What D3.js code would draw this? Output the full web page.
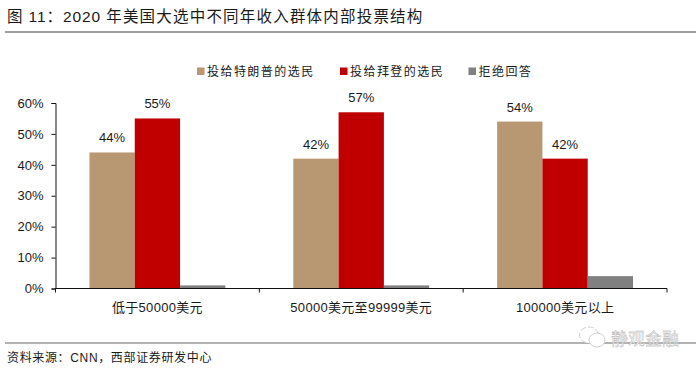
<!DOCTYPE html>
<html>
<head>
<meta charset="utf-8">
<script src="https://d3js.org/d3.v7.min.js"></script>
<style>
html, body { margin: 0; padding: 0; background: #fff; }
text { font-family: "Liberation Sans", "Noto Sans CJK SC", sans-serif; fill: #1a1a1a; }
</style>
</head>
<body>
<svg id="chart" width="700" height="368"></svg>
<script>
const titlePrefix = "图 11：2020 ";
const titleRest = "年美国大选中不同年收入群体内部投票结构";
const sourceText = "资料来源：CNN，西部证券研发中心";
const watermarkText = "静观金融";
const categories = ["低于50000美元", "50000美元至99999美元", "100000美元以上"];
const seriesNames = ["投给特朗普的选民", "投给拜登的选民", "拒绝回答"];
const seriesColors = ["#b89872", "#c00000", "#808080"];
const trump = [44, 42, 54];
const biden = [55, 57, 42];
const refused = [1, 1, 4];
const yTicks = [0, 10, 20, 30, 40, 50, 60];

const svg = d3.select("#chart");
const plot = { left: 55.5, right: 667, top: 103, bottom: 288.5 };

// header and footer rules
const title = svg.append("text").attr("x", 7).attr("y", 22).attr("font-size", 15.5).attr("xml:space", "preserve");
title.append("tspan").attr("letter-spacing", 0.9).text(titlePrefix);
title.append("tspan").attr("letter-spacing", 1.2).text(titleRest);
svg.append("line").attr("x1", 5).attr("x2", 696).attr("y1", 32).attr("y2", 32)
    .attr("stroke", "#808080").attr("stroke-width", 1.5);
svg.append("line").attr("x1", 5).attr("x2", 696).attr("y1", 343).attr("y2", 343)
    .attr("stroke", "#999").attr("stroke-width", 1.5);
svg.append("text").attr("x", 7).attr("y", 361.5).attr("font-size", 12)
    .attr("letter-spacing", 0.65).text(sourceText);

const x = d3.scaleBand().domain(categories).range([plot.left, plot.right]);
const xInner = d3.scaleBand().domain(seriesNames).range([0, x.bandwidth()]).paddingOuter(0.75).paddingInner(0);
const y = d3.scaleLinear().domain([0, 60]).range([plot.bottom, plot.top]);

const series = [trump, biden, refused];
series.forEach((values, s) => {
    const name = seriesNames[s];
    svg.append("g").selectAll("rect").data(values).join("rect")
        .attr("x", (d, i) => x(categories[i]) + xInner(name))
        .attr("y", d => y(d))
        .attr("width", xInner.bandwidth())
        .attr("height", d => y(0) - y(d))
        .attr("fill", seriesColors[s]);
    // the refused series has no data labels in the source
    if (s < 2) {
        svg.append("g").selectAll("text").data(values).join("text")
            .attr("x", (d, i) => x(categories[i]) + xInner(name) + xInner.bandwidth() / 2)
            .attr("y", d => y(d) - 10)
            .attr("text-anchor", "middle").attr("font-size", 13)
            .text(d => d + "%");
    }
});

// y axis
const yAxis = svg.append("g").attr("transform", `translate(${plot.left},0)`)
    .call(d3.axisLeft(y).tickValues(yTicks).tickFormat(d => d + "%").tickSize(4).tickSizeOuter(4));
yAxis.selectAll("path, line").attr("stroke", "#111");
yAxis.selectAll("text").attr("font-size", 13).attr("x", -12).style("font-family", null);

// x axis: ticks sit on the band edges
const xEdges = categories.map(c => x(c)).concat([plot.right]);
const xAxis = svg.append("g").attr("transform", `translate(0,${plot.bottom})`);
xAxis.append("line").attr("x1", plot.left).attr("x2", plot.right).attr("stroke", "#111");
xAxis.selectAll("line.tick").data(xEdges).join("line").attr("class", "tick")
    .attr("x1", d => d).attr("x2", d => d).attr("y1", 0).attr("y2", 4).attr("stroke", "#111");
xAxis.selectAll("text").data(categories).join("text")
    .attr("x", d => x(d) + x.bandwidth() / 2).attr("y", 23)
    .attr("text-anchor", "middle").attr("font-size", 13).attr("letter-spacing", 0.3).text(d => d);

// legend
const legendX = [197, 340, 468.5];
const legend = svg.append("g").selectAll("g").data(seriesNames).join("g")
    .attr("transform", (d, i) => `translate(${legendX[i]},71)`);
legend.append("rect").attr("y", -3.5).attr("width", 7.5).attr("height", 7.5).attr("fill", (d, i) => seriesColors[i]);
legend.append("text").attr("x", 10).attr("y", 4.5).attr("font-size", 12)
    .attr("letter-spacing", 1.45).text(d => d);

// watermark
const mark = svg.append("g").attr("fill", "#fff").attr("stroke", "#cfcfcf").attr("stroke-width", 1);
mark.append("ellipse").attr("cx", 589).attr("cy", 335).attr("rx", 9.5).attr("ry", 8)
    .attr("stroke-dasharray", "6,2");
mark.append("ellipse").attr("cx", 597).attr("cy", 340).attr("rx", 8).attr("ry", 7);
svg.append("text").attr("x", 611).attr("y", 345).attr("font-size", 17)
    .attr("stroke", "#a8a8a8").attr("stroke-width", 0.3).style("fill", "#eee").text(watermarkText);
</script>
</body>
</html>
